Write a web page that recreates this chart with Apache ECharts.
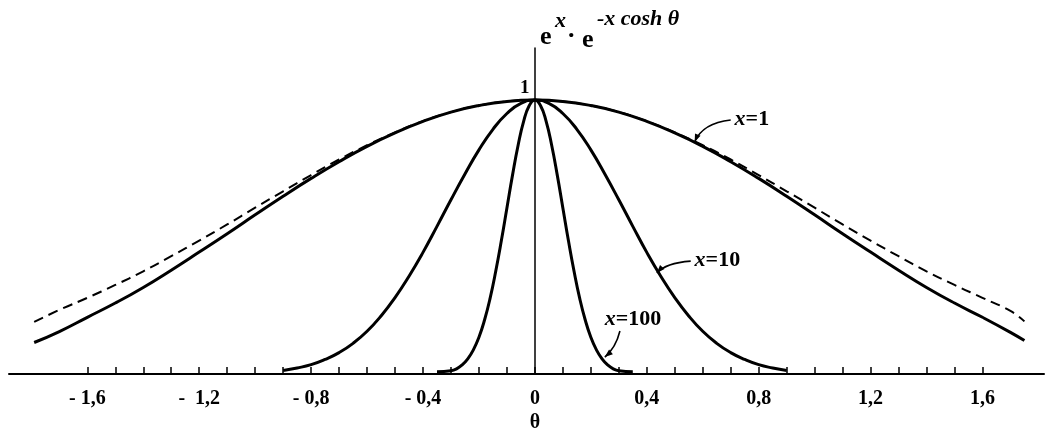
<!DOCTYPE html>
<html>
<head>
<meta charset="utf-8">
<script src="https://cdn.jsdelivr.net/npm/echarts@6/dist/echarts.min.js"></script>
<style>
  html, body { margin: 0; padding: 0; background: #fff; }
  #chart { width: 1047px; height: 428px; }
</style>
</head>
<body>
<div id="chart"></div>
<script>
// θ positions of the axis ticks and labelled ticks
const tickValues = [-1.6, -1.5, -1.4, -1.3, -1.2, -1.1, -1.0, -0.9, -0.8, -0.7, -0.6, -0.5, -0.4, -0.3, -0.2, -0.1,
  0, 0.1, 0.2, 0.3, 0.4, 0.5, 0.6, 0.7, 0.8, 0.9, 1.0, 1.1, 1.2, 1.3, 1.4, 1.5, 1.6];
const labelValues = [-1.6, -1.2, -0.8, -0.4, 0, 0.4, 0.8, 1.2, 1.6];
const labelTexts = ['- 1,6', '-  1,2', '- 0,8', '- 0,4', '0', '0,4', '0,8', '1,2', '1,6'];

// x = 1 (solid)
const thetaX1 = [-1.79, -1.7, -1.6, -1.5, -1.4, -1.3, -1.2, -1.1, -1.0, -0.9, -0.8, -0.7, -0.6, -0.5, -0.4, -0.3, -0.2, -0.1,
  0, 0.1, 0.2, 0.3, 0.4, 0.5, 0.6, 0.7, 0.8, 0.9, 1.0, 1.1, 1.2, 1.3, 1.4, 1.5, 1.6, 1.7, 1.75];
const valX1 = [0.115, 0.155, 0.207, 0.259, 0.316, 0.379, 0.445, 0.512, 0.581, 0.649, 0.714, 0.775, 0.831, 0.880, 0.922, 0.956, 0.980, 0.995,
  1.0, 0.995, 0.980, 0.956, 0.922, 0.880, 0.831, 0.775, 0.714, 0.649, 0.581, 0.512, 0.445, 0.379, 0.316, 0.259, 0.207, 0.152, 0.122];

// Gaussian approximation for x = 1 (dashed)
const thetaGauss = [-1.79, -1.7, -1.6, -1.5, -1.4, -1.3, -1.2, -1.1, -1.0, -0.9, -0.8, -0.7, -0.6, -0.5, -0.4, -0.3, -0.2, -0.1,
  0, 0.1, 0.2, 0.3, 0.4, 0.5, 0.6, 0.7, 0.8, 0.9, 1.0, 1.1, 1.2, 1.3, 1.4, 1.5, 1.6, 1.7, 1.75];
const valGauss = [0.190, 0.234, 0.278, 0.325, 0.375, 0.430, 0.487, 0.546, 0.607, 0.667, 0.726, 0.783, 0.835, 0.882, 0.923, 0.956, 0.980, 0.995,
  1.0, 0.995, 0.980, 0.956, 0.923, 0.882, 0.835, 0.783, 0.726, 0.667, 0.607, 0.546, 0.487, 0.430, 0.375, 0.325, 0.278, 0.230, 0.192];

// x = 10
const thetaX10 = [-0.9, -0.85, -0.8, -0.75, -0.7, -0.65, -0.6, -0.55, -0.5, -0.45, -0.4, -0.35, -0.3, -0.25, -0.2, -0.15, -0.1, -0.05,
  0, 0.05, 0.1, 0.15, 0.2, 0.25, 0.3, 0.35, 0.4, 0.45, 0.5, 0.55, 0.6, 0.65, 0.7, 0.75, 0.8, 0.85, 0.9];
const valX10 = [0.013, 0.022, 0.034, 0.053, 0.078, 0.112, 0.156, 0.212, 0.279, 0.357, 0.444, 0.539, 0.636, 0.730, 0.818, 0.893, 0.951, 0.988,
  1.0, 0.988, 0.951, 0.893, 0.818, 0.730, 0.636, 0.539, 0.444, 0.357, 0.279, 0.212, 0.156, 0.112, 0.078, 0.053, 0.034, 0.022, 0.013];

// x = 100
const thetaX100 = [-0.35, -0.3, -0.28, -0.26, -0.24, -0.22, -0.2, -0.18, -0.16, -0.14, -0.12, -0.1, -0.08, -0.06, -0.04, -0.02,
  0, 0.02, 0.04, 0.06, 0.08, 0.1, 0.12, 0.14, 0.16, 0.18, 0.2, 0.22, 0.24, 0.26, 0.28, 0.3, 0.35];
const valX100 = [0.008, 0.012, 0.019, 0.033, 0.055, 0.088, 0.134, 0.197, 0.277, 0.375, 0.486, 0.606, 0.726, 0.835, 0.923, 0.980,
  1.0, 0.980, 0.923, 0.835, 0.726, 0.606, 0.486, 0.375, 0.277, 0.197, 0.134, 0.088, 0.055, 0.033, 0.019, 0.012, 0.008];

const pairs = (xs, ys) => xs.map((x, i) => [x, ys[i]]);

const SERIF = '"Liberation Serif", "DejaVu Serif", serif';
const INK = '#000';

// curve annotations (data coordinates): label anchor, arrow start, control point, arrow tip
const notes = [
  { text: '1',   label: [0.714, 0.931], from: [0.700, 0.927], ctrl: [0.600, 0.916], tip: [0.571, 0.847] },
  { text: '10',  label: [0.571, 0.416], from: [0.557, 0.412], ctrl: [0.468, 0.405], tip: [0.436, 0.369] },
  { text: '100', label: [0.250, 0.200], from: [0.304, 0.157], ctrl: [0.289, 0.095], tip: [0.250, 0.062] }
];

const chart = echarts.init(document.getElementById('chart'), null, { renderer: 'canvas' });

const lineSeries = (name, data, extra) => Object.assign({
  type: 'line',
  name: name,
  data: data,
  showSymbol: false,
  smooth: 0.5,
  lineStyle: { color: INK, width: 3 },
  silent: true,
  animation: false,
  z: 3
}, extra || {});

chart.setOption({
  animation: false,
  backgroundColor: '#fff',
  grid: { left: 9, right: 3, top: 48, bottom: 54, containLabel: false },
  xAxis: {
    type: 'value',
    min: -1.88,
    max: 1.82,
    splitLine: { show: false },
    axisLine: { show: true, onZero: true, lineStyle: { color: INK, width: 2 } },
    axisTick: { show: true, inside: true, length: 7, customValues: tickValues, lineStyle: { color: INK, width: 1.5 } },
    axisLabel: {
      show: true,
      customValues: labelValues,
      margin: 15,
      color: INK,
      fontFamily: SERIF,
      fontWeight: 'bold',
      fontSize: 20,
      formatter: function (v) {
        const i = labelValues.findIndex(function (t) { return Math.abs(t - v) < 1e-6; });
        return i >= 0 ? labelTexts[i] : '';
      }
    }
  },
  yAxis: {
    type: 'value',
    min: 0,
    max: 1.19,
    splitLine: { show: false },
    axisLine: { show: true, onZero: true, lineStyle: { color: INK, width: 1.5 } },
    axisTick: { show: false },
    axisLabel: { show: false }
  },
  series: [
    lineSeries('gauss', pairs(thetaGauss, valGauss), { lineStyle: { color: INK, width: 2, type: [10, 6] }, z: 2 }),
    lineSeries('x=1', pairs(thetaX1, valX1)),
    lineSeries('x=10', pairs(thetaX10, valX10)),
    lineSeries('x=100', pairs(thetaX100, valX100))
  ]
});

function px(p) { return chart.convertToPixel({ gridIndex: 0 }, p); }

function buildGraphics() {
  const g = [];
  notes.forEach(function (n) {
    const L = px(n.label), A = px(n.from), C = px(n.ctrl), T = px(n.tip);
    g.push({
      type: 'text', silent: true, z: 10,
      style: {
        x: L[0], y: L[1], align: 'left', verticalAlign: 'middle',
        text: '{i|x}{b|=' + n.text + '}',
        rich: {
          i: { fontFamily: SERIF, fontStyle: 'italic', fontWeight: 'bold', fontSize: 22, fill: INK },
          b: { fontFamily: SERIF, fontWeight: 'bold', fontSize: 22, fill: INK }
        }
      }
    });
    g.push({
      type: 'bezierCurve', silent: true, z: 10,
      shape: { x1: A[0], y1: A[1], x2: T[0], y2: T[1], cpx1: C[0], cpy1: C[1] },
      style: { stroke: INK, lineWidth: 1.6, fill: null }
    });
    const dx = T[0] - C[0], dy = T[1] - C[1];
    const len = Math.sqrt(dx * dx + dy * dy) || 1;
    const ux = dx / len, uy = dy / len;
    const hl = 8, hw = 3;
    g.push({
      type: 'polygon', silent: true, z: 10,
      shape: { points: [
        [T[0], T[1]],
        [T[0] - ux * hl - uy * hw, T[1] - uy * hl + ux * hw],
        [T[0] - ux * hl + uy * hw, T[1] - uy * hl - ux * hw]
      ] },
      style: { fill: INK }
    });
  });

  // value 1 at the peak
  const one = px([-0.036, 1.044]);
  g.push({ type: 'text', silent: true, z: 10,
    style: { x: one[0], y: one[1], align: 'center', verticalAlign: 'middle', text: '1',
      fontFamily: SERIF, fontWeight: 'bold', fontSize: 19, fill: INK } });

  // θ under the axis
  const th = px([0, -0.177]);
  g.push({ type: 'text', silent: true, z: 10,
    style: { x: th[0], y: th[1], align: 'center', verticalAlign: 'middle', text: 'θ',
      fontFamily: SERIF, fontWeight: 'bold', fontSize: 20, fill: INK } });

  // vertical axis title: e^x · e^(-x cosh θ)
  const top = px([0, 1.19]);
  const parts = [
    { t: 'e', dx: 5, dy: -11, size: 26, italic: false },
    { t: 'x', dx: 20, dy: -27, size: 22, italic: true },
    { t: '.', dx: 33, dy: -18, size: 26, italic: false },
    { t: 'e', dx: 47, dy: -8, size: 26, italic: false },
    { t: '-x cosh θ', dx: 62, dy: -29, size: 22, italic: true }
  ];
  parts.forEach(function (p) {
    g.push({ type: 'text', silent: true, z: 10,
      style: { x: top[0] + p.dx, y: top[1] + p.dy, align: 'left', verticalAlign: 'middle', text: p.t,
        fontFamily: SERIF, fontWeight: 'bold', fontStyle: p.italic ? 'italic' : 'normal',
        fontSize: p.size, fill: INK } });
  });
  return g;
}

chart.setOption({ graphic: buildGraphics() });
</script>
</body>
</html>
